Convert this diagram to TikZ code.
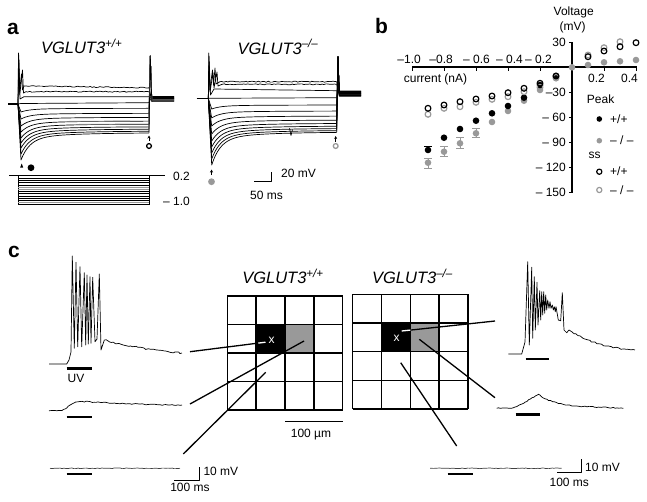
\documentclass[tikz,border=0pt]{standalone}
\usepackage{fontspec}
\setmainfont{Liberation Sans}
\usetikzlibrary{arrows.meta,decorations.pathmorphing}
\definecolor{mgray}{gray}{0.6}
\begin{document}
\pgfmathsetseed{7}
\begin{tikzpicture}[x=1pt,y=-1pt,line join=round,
  tr/.style={line width=0.7pt},
  noisy/.style={decorate,decoration={random steps,segment length=2pt,amplitude=0.5pt}},
  lbl/.style={font=\fontsize{12}{14}\selectfont,inner sep=0pt},
  ttl/.style={font=\fontsize{16.5}{19}\selectfont\itshape,inner sep=0pt},
  plabel/.style={font=\fontsize{21}{24}\selectfont\bfseries,inner sep=0pt},
  axisl/.style={line width=1.3pt},
  conn/.style={line width=1.3pt},
  stim/.style={line width=2.4pt},
  gridl/.style={line width=1.4pt},
  tip/.style={-{Stealth[length=3pt,width=3pt]},line width=0.6pt}]
\useasboundingbox (0,0) rectangle (647,501);

% ---------- panel letters and titles ----------
\node[plabel,anchor=base west] (pa) at (7,34.3) {a};
\node[plabel,anchor=base west] (pb) at (375,33.3) {b};
\node[plabel,anchor=base west] (pc) at (8,257.3) {c};
\node[ttl,anchor=base] (ta1) at (81.7,53.3) {VGLUT3\textsuperscript{+/+}};
\node[ttl,anchor=base] (ta2) at (278,54) {VGLUT3\textsuperscript{–/–}};
\node[ttl,anchor=base] (tc1) at (283,283.3) {VGLUT3\textsuperscript{+/+}};
\node[ttl,anchor=base] (tc2) at (412.5,283.3) {VGLUT3\textsuperscript{–/–}};

% ---------- panel a, left traces ----------
\draw[line width=1.5pt] (8,104) -- (18,104);
\draw[tr] (18,104) -- (18.5,53) -- (19.5,92) -- (21.5,74) -- (22.5,90) -- (24,86);
\draw[tr,noisy] (24,86) -- (149,87.7);
\draw[tr] (18,104) -- (18.7,55) -- (19.7,95) -- (22.5,70) -- (23.5,93) -- (26,91.7);
\draw[tr,noisy] (26,91.7) -- (149,91.7);
\draw[tr] (18,104) -- (18.9,60) -- (20,99) -- (24,96.7) -- (149,96.7);
\draw[tr] (18,104) -- (21,103.5) -- (149,102.7);
\foreach \ss/\pk in {108.3/112,113.3/119,117.3/126,121/132,124/138,126.7/143,129/148,131/154,132.7/160}{
  \draw[tr] (18,104) -- plot[domain=21:149,samples=70] (\x,{\ss+(\pk-\ss)*(0.8*exp(-(\x-21)/9)+0.2*exp(-(\x-21)/45))});
}
\draw[tr,mgray] (60,121.4) -- (130,121);
\draw[tr,mgray] (70,124.4) -- (120,124.1);
% offsets
\foreach \ss/\po in {87.7/96.5,91.7/97,96.7/97.5,102.7/98}{
  \draw[tr] (149,\ss) -- (151,\po) -- (174,\po);
}
\foreach \ss/\po/\cc in {108.3/98.4/black,113.3/98.8/black,117.3/99.2/black,121/99.6/mgray,124/100/black,126.7/100.4/mgray,129/100.8/black,131/101.2/mgray,132.7/101.6/black}{
  \draw[tr,\cc] (149,\ss) -- (150.3,56) -- (151.8,\po) -- (174,\po);
}
\fill (21.7,163.5) -- (20.2,167.5) -- (23.2,167.5) -- cycle;
\fill (31,167.7) circle[radius=3.4pt];
\draw[tip] (149,141) -- (149,135.5);
\draw[line width=1.3pt] (149,146) circle[radius=2.4pt];

% current steps
\draw[line width=0.8pt] (9,175.7) -- (165,175.7);
\draw[line width=0.7pt] (18.3,175.7) -- (18.3,204.6);
\draw[line width=0.7pt] (149,175.7) -- (149,204.6);
\foreach \k in {0,...,12}{
  \pgfmathsetmacro{\yy}{178.2+\k*2.2}
  \ifnum\k=4 \def\cc{mgray}\else\ifnum\k=5 \def\cc{mgray}\else\ifnum\k=11 \def\cc{mgray}\else\def\cc{black}\fi\fi\fi
  \draw[line width=0.6pt,\cc] (18.3,\yy) -- (149,\yy);
}
\node[lbl,anchor=base east] (c02) at (190,180) {0.2};
\node[lbl,anchor=base east] (c10) at (190,205.7) {– 1.0};

% ---------- panel a, right traces ----------
\draw[line width=1.5pt] (196.7,98.3) -- (208.3,98.3);
\draw[tr] (208.3,98.3) -- (208.8,53) -- (209.8,90) -- (212.5,70) -- (213.5,85) -- (215,68) -- (216,84) -- (220,81.7);
\draw[tr,noisy] (220,81.7) -- (336.7,81.7);
\draw[tr] (208.3,98.3) -- (209,56) -- (210,92) -- (213,73) -- (214,88) -- (217,72) -- (218,86) -- (222,84.3);
\draw[tr,noisy] (222,84.3) -- (336.7,84.3);
\draw[tr] (208.3,98.3) -- (209.2,62) -- (210.5,95) -- (214,89) -- (336.7,90.7);
\draw[tr] (208.3,98.3) -- (336.7,97.7);
\foreach \ss/\pk in {105/109,111/118,116/126,120/134,123.3/141,126/147,128.3/153,130.3/159,132/165}{
  \draw[tr] (208.3,98.3) -- plot[domain=211.7:336.7,samples=70] (\x,{\ss+(\pk-\ss)*(0.8*exp(-(\x-211.7)/9)+0.2*exp(-(\x-211.7)/45))});
}
\draw[tr] (289.5,128.3) -- (291,135.5) -- (292.5,129.5);
\foreach \ss/\po in {81.7/91,84.3/91.5,90.7/92,97.7/92.5}{
  \draw[tr] (336.7,\ss) -- (338.5,\po) -- (361,\po);
}
\foreach \ss/\po/\cc in {105/93/black,111/93.4/black,116/93.8/black,120/94.2/black,123.3/94.6/black,126/95/black,128.3/95.4/black,130.3/95.8/black,132/96.2/black}{
  \draw[tr,\cc] (336.7,\ss) -- (338,56.7) -- (339.3,\po) -- (361,\po);
}
\draw[tip] (211.5,175) -- (211.5,169.5);
\fill[mgray] (211.5,181.7) circle[radius=3.4pt];
\draw[tip] (335.7,141.5) -- (335.7,136);
\draw[line width=1.3pt,mgray] (335.7,146) circle[radius=2.4pt];

% scale bar a
\draw[line width=1pt] (254.3,181.7) -- (271.7,181.7) -- (271.7,171.7);
\node[lbl,anchor=base west] (s20) at (281,177.3) {20 mV};
\node[lbl,anchor=base west] (s50) at (250,199) {50 ms};

% ---------- panel b ----------
\draw[axisl] (412,67) -- (637,67);
\draw[axisl] (572,42) -- (572,192.5);
\foreach \xx in {412,444,476,508,540,604,636}{ \draw[line width=1pt] (\xx,67) -- (\xx,70.5); }
\foreach \yy in {42,92,117,142,167,192}{ \draw[line width=1pt] (572,\yy) -- (568.5,\yy); }
\node[lbl,anchor=base east] (bx1) at (421,63.3) {–1.0};
\node[lbl,anchor=base east] (bx2) at (453,63.3) {–0.8};
\node[lbl,anchor=base east] (bx3) at (490,63.3) {– 0.6};
\node[lbl,anchor=base east] (bx4) at (523,63.3) {– 0.4};
\node[lbl,anchor=base east] (bx5) at (552,63.3) {– 0.2};
\node[lbl,anchor=base east] (bx6) at (605,82.7) {0.2};
\node[lbl,anchor=base east] (bx7) at (638,82.7) {0.4};
\node[lbl,anchor=base] (bxl) at (435.5,82.5) {current (nA)};
\node[lbl,anchor=base] (byl1) at (573.7,15) {Voltage};
\node[lbl,anchor=base] (byl2) at (572.5,30) {(mV)};
\node[lbl,anchor=east] (by1) at (566,42) {30};
\node[lbl,anchor=east] (by2) at (566,92) {–30};
\node[lbl,anchor=east] (by3) at (566,117) {– 60};
\node[lbl,anchor=east] (by4) at (566,142) {– 90};
\node[lbl,anchor=east] (by5) at (566,167) {– 120};
\node[lbl,anchor=east] (by6) at (566,192) {– 150};
% error bars
\foreach \xx/\ya/\yb in {428/158/168,444/146.7/156.7,460/137.7/148.3,476/128.3/137.3}{
  \draw[mgray,line width=1pt] (\xx,\ya) -- (\xx,\yb) (\xx-4,\ya) -- (\xx+4,\ya) (\xx-4,\yb) -- (\xx+4,\yb);
}
\draw[line width=1pt] (428,146.7) -- (428,153.3) (424,146.7) -- (432,146.7);
% peak -/-
\foreach \xx/\yy in {428/162.7,444/151.7,460/143.3,476/133.3,492/122,508/111,524/100.7,540/90,556/78.3,572/67.3,588/65,604/62.3,620/61.3,636/60}{
  \fill[mgray] (\xx,\yy) circle[radius=3.3pt];
}
% peak +/+
\foreach \xx/\yy in {428/150,444/137.7,460/129,476/120.7,492/113.3,508/106,524/97.7,540/85,556/76}{
  \fill (\xx,\yy) circle[radius=3.3pt];
}
% ss -/-
\foreach \xx/\yy in {428/114.3,444/108.3,460/106.7,476/102.3,492/99.3,508/96.7,524/91.7,540/87.3,556/77.3,588/55,604/47.7,620/41.7}{
  \draw[mgray,line width=1.2pt] (\xx,\yy) circle[radius=2.9pt];
}
% ss +/+
\foreach \xx/\yy in {428/108.3,444/105,460/101.7,476/99,492/96,508/92.7,524/88.3,540/83.3,556/76,588/56.7,604/51,620/46.7,636/42.7}{
  \draw[line width=1.2pt] (\xx,\yy) circle[radius=2.9pt];
}
% legend
\node[lbl,anchor=base west] (lpk) at (586.7,103.3) {Peak};
\fill (599.3,119) circle[radius=2.8pt];
\node[lbl,anchor=west] (lp1) at (610,119) {+/+};
\fill[mgray] (599.3,140.7) circle[radius=2.8pt];
\node[lbl,anchor=west] (lp2) at (610,140.7) {– / –};
\node[lbl,anchor=base west] (lss) at (588.3,158.3) {ss};
\draw[line width=1.2pt] (599.3,171.7) circle[radius=2.6pt];
\node[lbl,anchor=west] (ls1) at (610,171.7) {+/+};
\draw[line width=1.2pt,mgray] (599.3,190) circle[radius=2.6pt];
\node[lbl,anchor=west] (ls2) at (610,190) {– / –};

% ---------- panel c grids ----------
\fill (256.15,324.5) rectangle (285,353);
\fill[mgray] (285,324.5) rectangle (313.85,353);
\foreach \i in {0,...,4}{
  \pgfmathsetmacro{\gx}{227.3+\i*28.85}
  \pgfmathsetmacro{\gy}{296+\i*28.5}
  \draw[gridl] (\gx,296) -- (\gx,410);
  \draw[gridl] (227.3,\gy) -- (342.7,\gy);
}
\fill (381.7,322.7) rectangle (410.3,351.7);
\fill[mgray] (410.3,322.7) rectangle (439,351.7);
\foreach \i in {0,...,4}{
  \pgfmathsetmacro{\gx}{352.7+\i*28.83}
  \pgfmathsetmacro{\gy}{294.3+\i*28.675}
  \draw[gridl] (\gx,294.3) -- (\gx,409);
  \draw[gridl] (352.7,\gy) -- (468,\gy);
}
\node[lbl,text=white] (x1) at (271.7,340) {x};
\node[lbl,text=white] (x2) at (396.7,338.6) {x};
\draw[line width=1.2pt] (285,421.7) -- (342.7,421.7);
\node[lbl,anchor=base] (um) at (311,437.5) {100 µm};

% connectors grid 1
\coordinate (a1) at (190,351.7); \coordinate (a1m) at (258.3,343.1); \coordinate (a1e) at (265.5,342.2);
\coordinate (a2) at (190,404); \coordinate (a2e) at (304,341);
\coordinate (a3) at (183.3,454); \coordinate (a3e) at (265.7,372.3);
\draw[conn] (a1) -- (a1m);
\draw[conn,white] (a1m) -- (a1e);
\draw[conn] (a2) -- (a2e);
\draw[conn] (a3) -- (a3e);
% connectors grid 2
\coordinate (b1) at (495,321); \coordinate (b1m) at (410.3,330.1); \coordinate (b1e) at (401.7,331);
\coordinate (b2) at (495,397.7); \coordinate (b2e) at (419.3,339.3);
\coordinate (b3) at (456.7,446); \coordinate (b3e) at (400.7,362.7);
\draw[conn] (b1) -- (b1m);
\draw[conn,white] (b1m) -- (b1e);
\draw[conn] (b2) -- (b2e);
\draw[conn] (b3) -- (b3e);

% ---------- panel c traces, left ----------
\draw[tr] (49,364) -- (66.7,364) -- (69,360) -- (71,352) -- (72.3,256) -- (74.3,348.3) -- (76,262.3) -- (77.7,346.7) -- (80,266.7) -- (81.7,346.7) -- (84.3,272.7) -- (85.7,345) -- (87,275) -- (88.3,344) -- (90,276.7) -- (91,343.3) -- (92.7,277.3) -- (95,341.7) -- (97,339) -- (99.3,274) -- (101,350) -- (104.3,340);
\draw[tr,decorate,decoration={random steps,segment length=2.5pt,amplitude=0.9pt}] (104.3,340) .. controls (120,345) and (150,350) .. (182,353);
\draw[stim] (66.7,368.3) -- (91.7,368.3);
\node[lbl,anchor=base] (uv) at (76,382.7) {UV};
\draw[tr,noisy] (49,410.7) -- (62,410.5) .. controls (70,406) and (74,401) .. (82,401.5) .. controls (110,403) and (150,405) .. (182,405);
\draw[stim] (66.7,416.7) -- (91.7,416.7);
\draw[tr,black!75,decorate,decoration={random steps,segment length=2pt,amplitude=0.35pt}] (50,468.3) -- (180,468.3);
\draw[stim] (66.7,474) -- (91.7,474);
\draw[line width=1pt] (174.3,480) -- (199,480) -- (199,466.7);
\node[lbl,anchor=base west] (l10) at (203.3,475.7) {10 mV};
\node[lbl,anchor=base] (l100) at (190,491.7) {100 ms};

% ---------- panel c traces, right ----------
\draw[tr] (508.3,354) -- (521.7,354) -- (525,342) -- (527.7,261.7) -- (529.3,345) -- (531.7,267.3) -- (532.7,338.3) -- (534.3,276.7) -- (535.3,330) -- (537,282.3) -- (538,325) -- (539.7,290.7) -- (540.7,320) -- (541.7,291.7) -- (542.7,315) -- (543.7,291.7) -- (544.7,313.3) -- (545.7,295) -- (546.7,310) -- (547.7,300) -- (549,308.3) -- (550,301.7) -- (551,308.3) -- (552.3,305) -- (553.3,310) -- (554.3,306.7) -- (555.3,311.7) -- (556,306.7) -- (558.3,320) -- (560.7,320.7) -- (562.3,292.7) -- (564,330) -- (566.7,332.7) -- (569,330) -- (571.7,331.7);
\draw[tr,decorate,decoration={random steps,segment length=2.5pt,amplitude=0.7pt}] (571.7,331.7) .. controls (585,340) and (605,348) .. (635,350);
\draw[stim] (525.7,359) -- (549.3,359);
\draw[tr,noisy] (496.7,408.3) -- (512.7,408) .. controls (525,404) and (532,397) .. (538.3,394.3) .. controls (545,399) and (555,404) .. (575,406) -- (623.3,408.3);
\draw[stim] (515.7,414.3) -- (540,414.3);
\draw[tr,black!75,decorate,decoration={random steps,segment length=2pt,amplitude=0.35pt}] (430,468.3) -- (561.7,468.3);
\draw[stim] (447.7,474) -- (472.7,474);
\draw[line width=1pt] (557.3,472.7) -- (581.7,472.7) -- (581.7,459.3);
\node[lbl,anchor=base west] (r10) at (585,471.7) {10 mV};
\node[lbl,anchor=base] (r100) at (569.3,486.7) {100 ms};
\end{tikzpicture}
\end{document}
